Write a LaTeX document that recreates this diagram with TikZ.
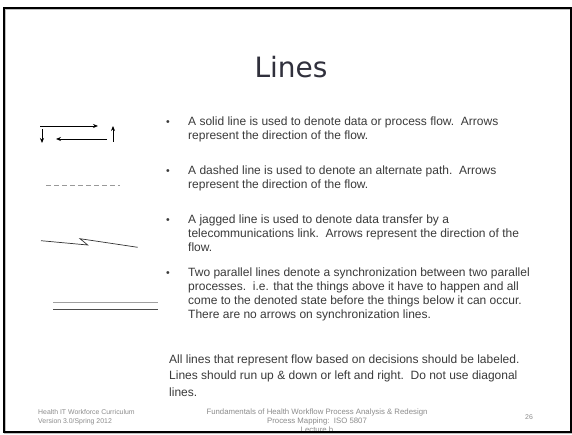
\documentclass[tikz,border=0pt]{standalone}
\usepackage{fontspec}
\setmainfont{Liberation Sans}
\newfontfamily\titlefont{DejaVu Sans}
\usetikzlibrary{arrows.meta}
\definecolor{bodytext}{HTML}{3A3A3A}
\definecolor{titletext}{HTML}{30303C}
\definecolor{foottext}{HTML}{8C8C8C}
\begin{document}
\begin{tikzpicture}[x=1pt,y=-1pt,
  txt/.style={anchor=base west,inner sep=0pt,text=bodytext,font=\fontsize{12}{14}\selectfont},
  bul/.style={anchor=base west,inner sep=0pt,text=bodytext,font=\fontsize{10.5}{12}\selectfont},
  foot/.style={inner sep=0pt,text=foottext,font=\fontsize{6.9}{9}\selectfont},
  footc/.style={inner sep=0pt,text=foottext,font=\fontsize{7.8}{9}\selectfont,anchor=base},
  flow/.style={draw=black,line width=0.8pt,-{Stealth[length=5pt,width=4pt]}},
  dashline/.style={draw=gray!80,line width=1pt,dash pattern=on 5pt off 3pt},
  jag/.style={draw=black!80,line width=0.7pt,line join=miter}]
\useasboundingbox (0,0) rectangle (572,435);
\fill[white] (0,0) rectangle (572,435);
% footer text sits under the frame's bottom edge
\node[footc] (f3) at (317,414.5) {Fundamentals of Health Workflow Process Analysis \& Redesign};
\node[footc] (f4) at (317,423.5) {Process Mapping:\ \ ISO 5807};
\node[footc] (f5) at (317,432.5) {Lecture b};
\fill[white] (0,433) rectangle (572,435);
% slide frame
\draw[black!25,line width=1.2pt] (5,9) rectangle (572,433);
\draw[black,line width=1.2pt] (4,8) rectangle (571,432);
% title
\node[anchor=base,inner sep=0pt,text=titletext,font=\titlefont\fontsize{28}{32}\selectfont] (title) at (291,77.5) {Lines};

% solid flow arrows
\coordinate (s1a) at (40,126); \coordinate (s1b) at (98,126);
\coordinate (s2a) at (42,129); \coordinate (s2b) at (42,143);
\coordinate (s3a) at (107,139); \coordinate (s3b) at (56,139);
\coordinate (s4a) at (113,142); \coordinate (s4b) at (113,126);
\draw[flow] (s1a) -- (s1b);
\draw[flow] (s2a) -- (s2b);
\draw[flow] (s3a) -- (s3b);
\draw[flow] (s4a) -- (s4b);

% dashed line
\coordinate (d1) at (46,186); \coordinate (d2) at (120,186);
\draw[dashline] (d1) -- (d2);

% jagged line
\coordinate (j1) at (41,240.7); \coordinate (j2) at (87.7,245);
\coordinate (j3) at (80,238.7); \coordinate (j4) at (137.7,247.3);
\draw[jag] (j1) -- (j2) -- (j3) -- (j4);

% synchronization lines
\coordinate (p1) at (53,302.7); \coordinate (p2) at (158,302.7);
\coordinate (q1) at (53,309); \coordinate (q2) at (158,309);
\draw[gray!75,line width=1.4pt] (p1) -- (p2);
\draw[black!70,line width=0.9pt] (q1) -- (q2);

% bullets
\node[bul] (b1) at (166,125.5) {•};
\node[bul] (b2) at (166,174.5) {•};
\node[bul] (b3) at (166,223.5) {•};
\node[bul] (b4) at (166,276.5) {•};

\node[txt] (t11) at (188,125.5) {A solid line is used to denote data or process flow.\ \ Arrows};
\node[txt] (t12) at (188,139.5) {represent the direction of the flow.};

\node[txt] (t21) at (188,174.5) {A dashed line is used to denote an alternate path.\ \ Arrows};
\node[txt] (t22) at (188,188.5) {represent the direction of the flow.};

\node[txt] (t31) at (188,223.5) {A jagged line is used to denote data transfer by a};
\node[txt] (t32) at (188,237.5) {telecommunications link.\ \ Arrows represent the direction of the};
\node[txt] (t33) at (188,251.5) {flow.};

\node[txt] (t41) at (188,276.5) {Two parallel lines denote a synchronization between two parallel};
\node[txt] (t42) at (188,290.5) {processes.\ \ i.e. that the things above it have to happen and all};
\node[txt] (t43) at (188,304.5) {come to the denoted state before the things below it can occur.};
\node[txt] (t44) at (188,318.5) {There are no arrows on synchronization lines.};

\node[txt] (t51) at (169,363.5) {All lines that represent flow based on decisions should be labeled.};
\node[txt] (t52) at (169,379.5) {Lines should run up \& down or left and right.\ \ Do not use diagonal};
\node[txt] (t53) at (169,396.5) {lines.};

% footer
\node[foot,anchor=base west] (f1) at (38,414.5) {Health IT Workforce Curriculum};
\node[foot,anchor=base west] (f2) at (38,423.5) {Version 3.0/Spring 2012};
\node[foot,anchor=base] (f6) at (529,419) {26};
\end{tikzpicture}
\end{document}
